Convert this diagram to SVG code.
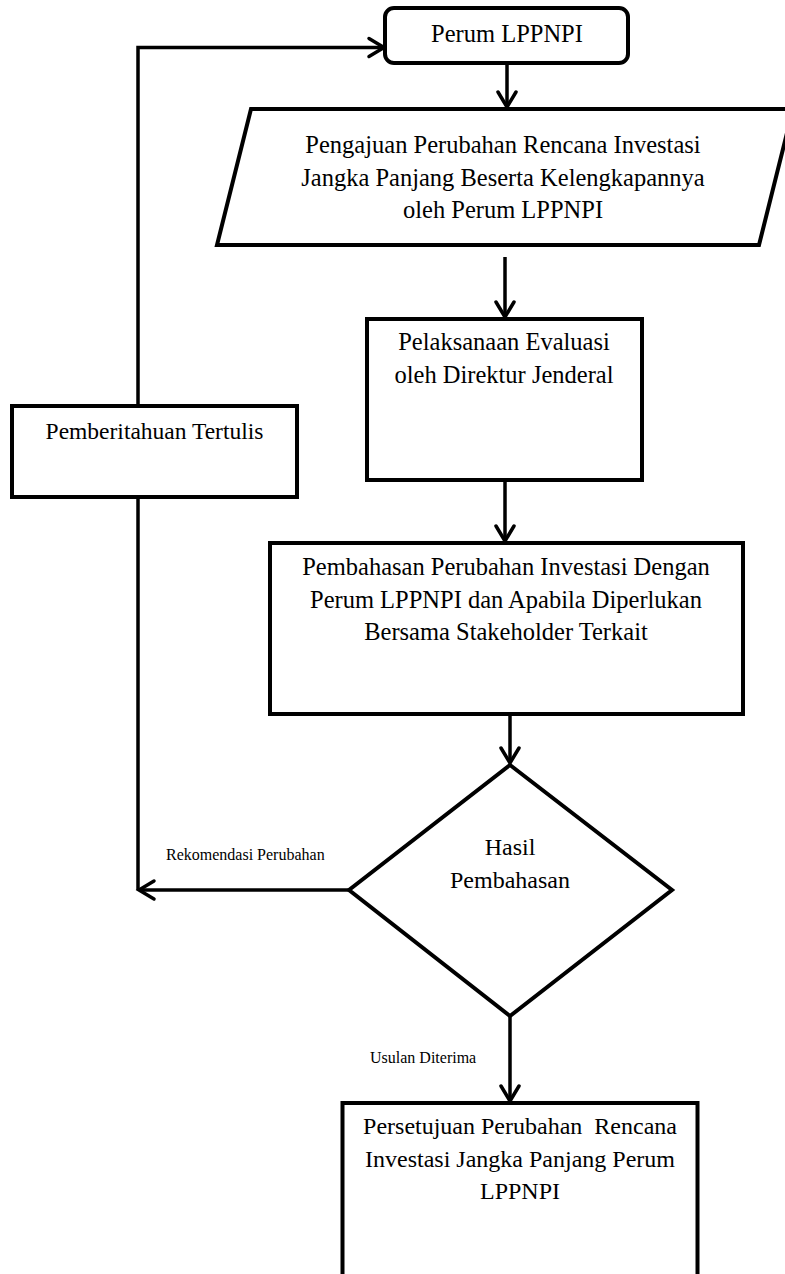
<svg xmlns="http://www.w3.org/2000/svg" width="785" height="1274" viewBox="0 0 785 1274">
<style>
.shape{fill:#fff;stroke:#000;stroke-width:4}
.conn{fill:none;stroke:#000;stroke-width:3.5}
text{font-family:"Liberation Serif","Times New Roman",serif;fill:#000}
.t{font-size:24.5px;text-anchor:middle}
.lbl{font-size:16px}
</style>
<defs>
<marker id="arr" markerUnits="userSpaceOnUse" markerWidth="24" markerHeight="24" viewBox="-20 -12 24 24" refX="0" refY="0" orient="auto">
<path d="M-15,-9 L0,0 L-15,9" fill="none" stroke="#000" stroke-width="3.5" stroke-linecap="round" stroke-linejoin="miter"/>
</marker>
</defs>
<rect width="785" height="1274" fill="#fff"/>
<g id="connectors">
<path class="conn" d="M138,405 V47.5 H384" marker-end="url(#arr)"/>
<path class="conn" d="M507,63 V107" marker-end="url(#arr)"/>
<path class="conn" d="M505,257 V317" marker-end="url(#arr)"/>
<path class="conn" d="M505,480 V541" marker-end="url(#arr)"/>
<path class="conn" d="M510,714 V763" marker-end="url(#arr)"/>
<path class="conn" d="M138,497 V890"/>
<path class="conn" d="M349,890 H139" marker-end="url(#arr)"/>
<path class="conn" d="M510,1016 V1101" marker-end="url(#arr)"/>
<text class="lbl" x="166" y="860">Rekomendasi Perubahan</text>
<text class="lbl" x="370" y="1063">Usulan Diterima</text>
</g>
<g id="start">
<rect class="shape" x="385" y="8" width="243" height="55" rx="9" ry="9" stroke-width="3.5"/>
<text class="t" x="507" y="42">Perum LPPNPI</text>
</g>
<g id="pengajuan">
<polygon class="shape" points="251,109 793,109 759,245 217,245"/>
<text class="t" x="503" y="153">Pengajuan Perubahan Rencana Investasi</text>
<text class="t" x="503" y="186">Jangka Panjang Beserta Kelengkapannya</text>
<text class="t" x="503" y="218">oleh Perum LPPNPI</text>
</g>
<g id="evaluasi">
<rect class="shape" x="367" y="319" width="275" height="161"/>
<text class="t" x="504" y="350">Pelaksanaan Evaluasi</text>
<text class="t" x="504" y="383">oleh Direktur Jenderal</text>
</g>
<g id="pemberitahuan">
<rect class="shape" x="12" y="406" width="285" height="91"/>
<text class="t" x="154.5" y="439" style="font-size:23.5px">Pemberitahuan Tertulis</text>
</g>
<g id="pembahasan">
<rect class="shape" x="270" y="543" width="473" height="171"/>
<text class="t" x="506" y="575">Pembahasan Perubahan Investasi Dengan</text>
<text class="t" x="506" y="608">Perum LPPNPI dan Apabila Diperlukan</text>
<text class="t" x="506" y="640">Bersama Stakeholder Terkait</text>
</g>
<g id="hasil">
<polygon class="shape" points="510,765 672,890 510,1016 349,890"/>
<text class="t" x="510" y="855" style="font-size:24px">Hasil</text>
<text class="t" x="510" y="888" style="font-size:24px">Pembahasan</text>
</g>
<g id="persetujuan">
<rect class="shape" x="342.5" y="1103" width="355" height="200"/>
<text class="t" x="520" y="1134" style="font-size:24px;white-space:pre" xml:space="preserve">Persetujuan Perubahan  Rencana</text>
<text class="t" x="520" y="1167" style="font-size:24px">Investasi Jangka Panjang Perum</text>
<text class="t" x="520" y="1199" style="font-size:24px">LPPNPI</text>
</g>
</svg>
